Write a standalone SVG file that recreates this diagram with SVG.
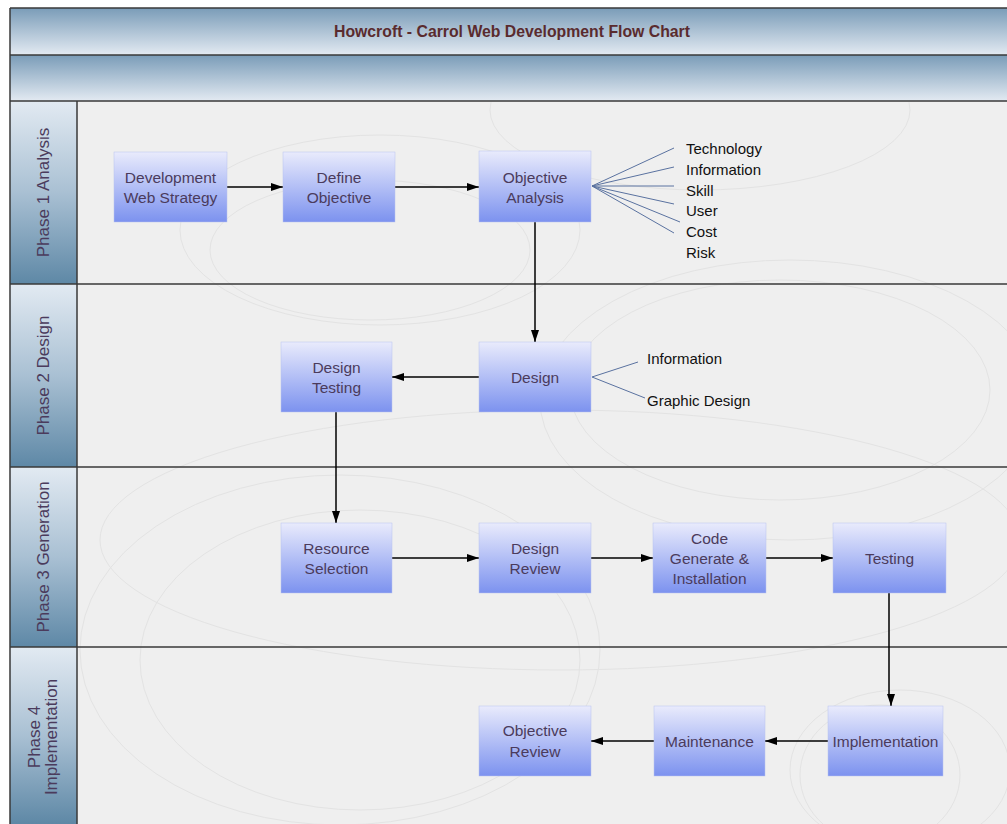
<svg xmlns="http://www.w3.org/2000/svg" width="1007" height="824" viewBox="0 0 1007 824">
<defs>
<linearGradient id="band" x1="0" y1="0" x2="0" y2="1">
<stop offset="0" stop-color="#7a9cb8"/>
<stop offset="1" stop-color="#e3eaf2"/>
</linearGradient>
<linearGradient id="phase" x1="0" y1="0" x2="0" y2="1">
<stop offset="0" stop-color="#e2eaf2"/>
<stop offset="0.5" stop-color="#a9c0d3"/>
<stop offset="1" stop-color="#5e88a6"/>
</linearGradient>
<linearGradient id="node" x1="0" y1="0" x2="0" y2="1">
<stop offset="0" stop-color="#e9ebfc"/>
<stop offset="1" stop-color="#7c92ef"/>
</linearGradient>
<marker id="ah" markerWidth="12" markerHeight="8" refX="12" refY="4" orient="auto" markerUnits="userSpaceOnUse">
<path d="M0,0 L12,4 L0,8 z" fill="#000"/>
</marker>
<clipPath id="lanes"><rect x="78" y="102" width="929" height="722"/></clipPath>
</defs>
<style>
.lane{fill:#efefef}
.sep{stroke:#3a3a3a;stroke-width:1.5;fill:none}
.nd{fill:url(#node);stroke:#b8c2ee;stroke-width:0.5}
.nt{font-family:"Liberation Sans",Arial,sans-serif;font-size:15.5px;fill:#4b3b5c;text-anchor:middle}
.ph{font-family:"Liberation Sans",Arial,sans-serif;font-size:17px;fill:#4b3b5c;text-anchor:middle}
.lb{font-family:"Liberation Sans",Arial,sans-serif;font-size:15px;fill:#111}
.cn{stroke:#000;stroke-width:1.5;fill:none;marker-end:url(#ah)}
.fan{stroke:#5a72a0;stroke-width:1;fill:none}
.sw{stroke:#e3e3e3;stroke-width:1;fill:none}
</style>
<rect x="0" y="0" width="1007" height="824" fill="#ffffff"/>
<rect x="10" y="8" width="997" height="47" fill="url(#band)"/>
<rect x="10" y="55" width="997" height="46" fill="url(#band)"/>
<text x="512" y="37" font-family="'Liberation Sans',Arial,sans-serif" font-size="17" font-weight="bold" fill="#5a2b2e" text-anchor="middle" textLength="356" lengthAdjust="spacingAndGlyphs">Howcroft - Carrol Web Development Flow Chart</text>
<rect class="lane" x="77" y="101" width="930" height="723"/>
<g clip-path="url(#lanes)">
<ellipse class="sw" cx="380" cy="230" rx="200" ry="95"/>
<ellipse class="sw" cx="370" cy="250" rx="160" ry="70"/>
<ellipse class="sw" cx="700" cy="110" rx="210" ry="80"/>
<ellipse class="sw" cx="790" cy="400" rx="250" ry="140"/>
<ellipse class="sw" cx="780" cy="390" rx="210" ry="110"/>
<ellipse class="sw" cx="340" cy="650" rx="260" ry="175"/>
<ellipse class="sw" cx="360" cy="660" rx="220" ry="150"/>
<ellipse class="sw" cx="880" cy="775" rx="80" ry="70"/>
<ellipse class="sw" cx="900" cy="770" rx="110" ry="80"/>
<ellipse class="sw" cx="560" cy="540" rx="460" ry="130"/>
</g>
<rect x="10" y="101" width="67" height="183" fill="url(#phase)"/>
<rect x="10" y="284" width="67" height="183" fill="url(#phase)"/>
<rect x="10" y="467" width="67" height="180" fill="url(#phase)"/>
<rect x="10" y="647" width="67" height="177" fill="url(#phase)"/>
<text class="ph" transform="translate(49,192.5) rotate(-90)">Phase 1 Analysis</text>
<text class="ph" transform="translate(49,375.5) rotate(-90)">Phase 2 Design</text>
<text class="ph" transform="translate(49,557) rotate(-90)">Phase 3 Generation</text>
<text class="ph" transform="translate(40,737) rotate(-90)">Phase 4</text>
<text class="ph" transform="translate(57,737) rotate(-90)">Implementation</text>
<path class="sep" d="M10,8 H1007 M10,55 H1007 M10,101 H1007 M10,284 H1007 M10,467 H1007 M10,647 H1007"/>
<path class="sep" d="M10,8 V824 M77,101 V824"/>
<g id="connectors">
<path class="cn" d="M227,187 H283"/>
<path class="cn" d="M395,187 H479"/>
<path class="cn" d="M535,222 V342"/>
<path class="cn" d="M479,377 H392"/>
<path class="cn" d="M336,412 V523"/>
<path class="cn" d="M392,558 H479"/>
<path class="cn" d="M591,558 H653"/>
<path class="cn" d="M766,558 H833"/>
<path class="cn" d="M889,593 V695 L891,700 V706"/>
<path class="cn" d="M828,741 H765"/>
<path class="cn" d="M654,741 H591"/>
<path class="fan" d="M592,186 L674,148 M592,186 L674,167 M592,186 L674,186 M592,186 L674,204 M592,186 L680,222 M592,186 L674,233"/>
<path class="fan" d="M592,377 L638,362 M592,377 L645,398"/>
</g>
<g id="n-dev"><rect class="nd" x="114" y="152" width="113" height="70"/><text class="nt" x="170.5" y="182.5">Development</text><text class="nt" x="170.5" y="203">Web Strategy</text></g>
<g id="n-define"><rect class="nd" x="283" y="152" width="112" height="70"/><text class="nt" x="339" y="182.5">Define</text><text class="nt" x="339" y="203">Objective</text></g>
<g id="n-objan"><rect class="nd" x="479" y="151" width="112" height="71"/><text class="nt" x="535" y="182.5">Objective</text><text class="nt" x="535" y="203">Analysis</text></g>
<g id="n-labels1">
<text class="lb" x="686" y="154">Technology</text>
<text class="lb" x="686" y="175">Information</text>
<text class="lb" x="686" y="195.5">Skill</text>
<text class="lb" x="686" y="216">User</text>
<text class="lb" x="686" y="237">Cost</text>
<text class="lb" x="686" y="258">Risk</text>
</g>
<g id="n-dtest"><rect class="nd" x="281" y="342" width="111" height="70"/><text class="nt" x="336.5" y="372.5">Design</text><text class="nt" x="336.5" y="393">Testing</text></g>
<g id="n-design"><rect class="nd" x="479" y="342" width="112" height="70"/><text class="nt" x="535" y="383">Design</text></g>
<g id="n-labels2">
<text class="lb" x="647" y="364">Information</text>
<text class="lb" x="647" y="406">Graphic Design</text>
</g>
<g id="n-res"><rect class="nd" x="281" y="523" width="111" height="70"/><text class="nt" x="336.5" y="553.5">Resource</text><text class="nt" x="336.5" y="574">Selection</text></g>
<g id="n-drev"><rect class="nd" x="479" y="523" width="112" height="70"/><text class="nt" x="535" y="553.5">Design</text><text class="nt" x="535" y="574">Review</text></g>
<g id="n-code"><rect class="nd" x="653" y="523" width="113" height="70"/><text class="nt" x="709.5" y="543.5">Code</text><text class="nt" x="709.5" y="563.5">Generate &amp;</text><text class="nt" x="709.5" y="584">Installation</text></g>
<g id="n-testing"><rect class="nd" x="833" y="523" width="113" height="70"/><text class="nt" x="889.5" y="564">Testing</text></g>
<g id="n-impl"><rect class="nd" x="828" y="706" width="115" height="70"/><text class="nt" x="885.5" y="747">Implementation</text></g>
<g id="n-maint"><rect class="nd" x="654" y="706" width="111" height="70"/><text class="nt" x="709.5" y="747">Maintenance</text></g>
<g id="n-objrev"><rect class="nd" x="479" y="706" width="112" height="70"/><text class="nt" x="535" y="736">Objective</text><text class="nt" x="535" y="756.5">Review</text></g>
</svg>
